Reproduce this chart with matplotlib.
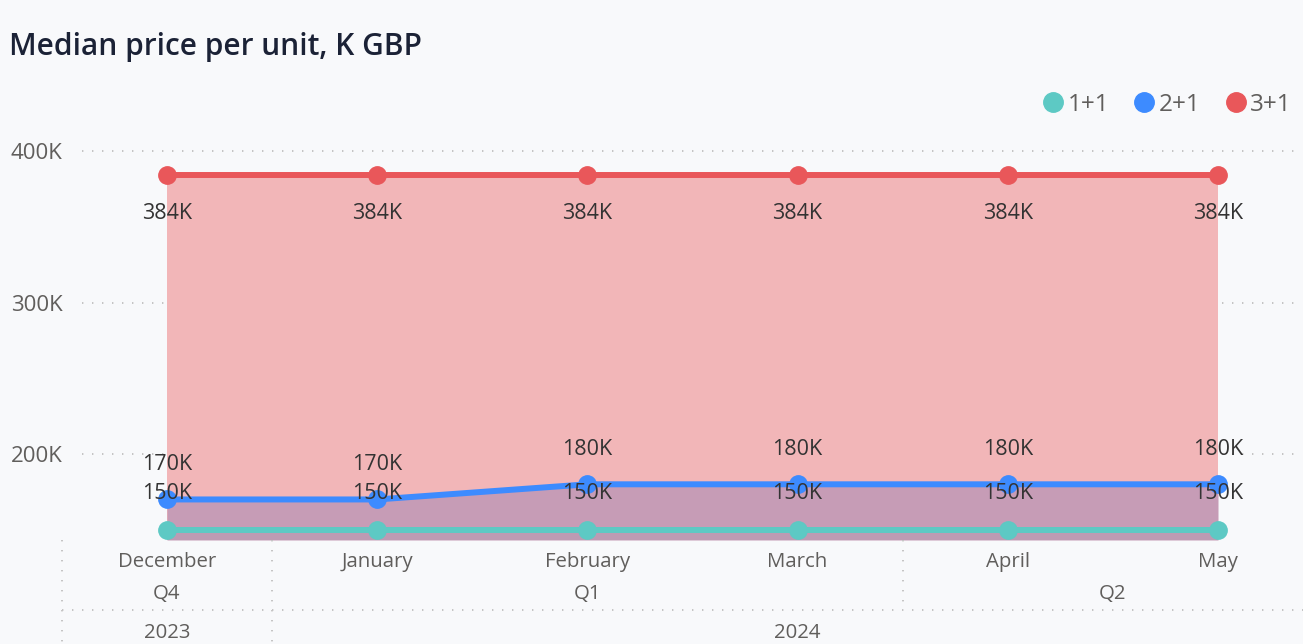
import matplotlib
matplotlib.use("Agg")
import matplotlib.pyplot as plt
from matplotlib.lines import Line2D
import matplotlib.transforms as mtransforms

plt.rcParams['font.family'] = ['Open Sans', 'DejaVu Sans']
plt.rcParams['lines.scale_dashes'] = False

months = ["December", "January", "February", "March", "April", "May"]
quarters = ["Q4", "Q1", "Q1", "Q1", "Q2", "Q2"]
years = ["2023", "2024", "2024", "2024", "2024", "2024"]
series_names = ["1+1", "2+1", "3+1"]
s_1p1 = [150000, 150000, 150000, 150000, 150000, 150000]
s_2p1 = [170000, 170000, 180000, 180000, 180000, 180000]
s_3p1 = [384000, 384000, 384000, 384000, 384000, 384000]
yticks = [200000, 300000, 400000]
ytick_labels = ["200K", "300K", "400K"]

BG = "#F8F9FB"
C_TEAL = "#5DC9C4"
C_BLUE = "#3D8BFF"
C_RED = "#E9575A"
F_RED = "#F2B6B8"
F_BLUE = "#C69CB6"
F_TEAL = "#BC9BB3"
GRID = "#C4C4C4"
TXT = "#605E5C"
LBL = "#333333"

W, H = 1303, 644
fig = plt.figure(figsize=(W / 100, H / 100), dpi=100, facecolor=BG)

def px_rect(x0, y0, x1, y1):
    return [x0 / W, 1 - y1 / H, (x1 - x0) / W, (y1 - y0) / H]

ax = fig.add_axes(px_rect(82, 140, 1300, 540))
ax.set_facecolor(BG)
x = list(range(len(months)))
sp = 210.2
ax.set_xlim((82 - 167) / sp, (1300 - 167) / sp)
ppk = 303.0 / 200000
ax.set_ylim(200000 - (540 - 454) / ppk, 200000 + (454 - 140) / ppk)
ymin = ax.get_ylim()[0]

for s in ax.spines.values():
    s.set_visible(False)
ax.set_xticks([])
ax.set_yticks(yticks)
ax.set_yticklabels(ytick_labels)
ax.tick_params(axis='y', length=0, pad=14, labelsize=16, labelcolor=TXT)
ax.grid(axis='y', color=GRID, linewidth=1.4, linestyle=(0, (1.0, 6.2)))
ax.set_axisbelow(True)

ax.fill_between(x, s_3p1, ymin, color=F_RED, linewidth=0, zorder=1)
ax.fill_between(x, s_2p1, ymin, color=F_BLUE, linewidth=0, zorder=1.1)
ax.fill_between(x, s_1p1, ymin, color=F_TEAL, linewidth=0, zorder=1.2)

for vals, c in [(s_3p1, C_RED), (s_2p1, C_BLUE), (s_1p1, C_TEAL)]:
    ax.plot(x, vals, color=c, linewidth=4.3, marker='o', markersize=12.5,
            solid_capstyle='round', zorder=3, clip_on=False)

def fmt(v):
    return f"{v / 1000:.0f}K"

for vals, off in [(s_3p1, -38), (s_2p1, 35), (s_1p1, 36)]:
    for xi, v in zip(x, vals):
        ax.annotate(fmt(v), (xi, v), xytext=(0, off), textcoords='offset pixels',
                    ha='center', va='center', fontsize=15.5, color=LBL, zorder=4)

tr = mtransforms.blended_transform_factory(ax.transData, fig.transFigure)
def fy(py):
    return 1 - py / H

for xi, m in enumerate(months):
    ax.text(xi, fy(562), m, transform=tr, ha='center', va='center',
            fontsize=14.7, color=TXT, clip_on=False)

def groups(labels):
    out = []
    start = 0
    for i in range(1, len(labels) + 1):
        if i == len(labels) or labels[i] != labels[start]:
            out.append((labels[start], start, i - 1))
            start = i
    return out

for lab, a, b in groups(quarters):
    ax.text((a + b) / 2, fy(594), lab, transform=tr, ha='center', va='center',
            fontsize=14.7, color=TXT, clip_on=False)
for lab, a, b in groups(years):
    ax.text((a + b) / 2, fy(633), lab, transform=tr, ha='center', va='center',
            fontsize=14.7, color=TXT, clip_on=False)

dot = (0, (1.0, 6.2))
fig.add_artist(Line2D([62 / W, 1.0], [fy(610), fy(610)], color=GRID, linewidth=1.4,
                      linestyle=dot))
qg = groups(quarters)
yg = groups(years)
year_bounds = set(a for _, a, _ in yg)
for _, a, _ in qg:
    xb = a - 0.5
    bottom = fy(644) if a in year_bounds else fy(610)
    ax.add_line(Line2D([xb, xb], [fy(540), bottom], transform=tr, color=GRID,
                       linewidth=1.4, linestyle=dot, clip_on=False))

fig.text(9 / W, fy(47), "Median price per unit, K GBP", ha='left', va='center',
         fontsize=21.5, fontweight='semibold', color="#1B2236")

legend_handles = [Line2D([0], [0], marker='o', linestyle='none', markersize=14,
                         markerfacecolor=c, markeredgecolor=c)
                  for c in [C_TEAL, C_BLUE, C_RED]]
fig.legend(legend_handles, series_names, loc='center right',
           bbox_to_anchor=(1292 / W, fy(105)), ncol=3, frameon=False,
           fontsize=17.5, labelcolor=TXT, handletextpad=0.05, columnspacing=0.9,
           handlelength=1.1, borderaxespad=0, borderpad=0)

fig.savefig("out.png", dpi=100, facecolor=BG)
